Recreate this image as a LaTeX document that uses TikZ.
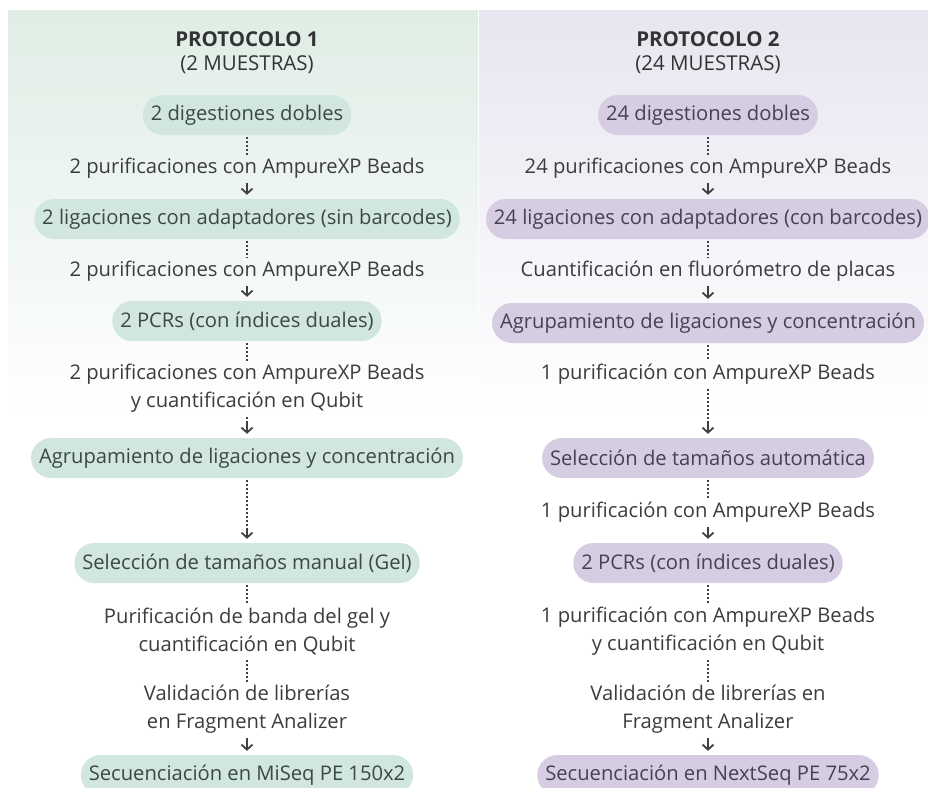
\documentclass[tikz,border=0pt]{standalone}
\usepackage{fontspec}
\setmainfont{Open Sans}
\usetikzlibrary{arrows.meta}
\definecolor{gfill}{HTML}{D0E6DE}
\definecolor{pfill}{HTML}{D6CDE3}
\definecolor{gtop}{HTML}{DFEDE5}
\definecolor{ptop}{HTML}{E8E5F0}
\definecolor{txt}{HTML}{3C3C3C}
\definecolor{gtxt}{HTML}{3B4844}
\definecolor{ptxt}{HTML}{464155}
\definecolor{conn}{HTML}{404040}
\definecolor{head}{HTML}{333333}
\tikzset{
  basefont/.style={font=\fontsize{20.2}{28}\selectfont},
  pill/.style={basefont, rounded corners=20pt, minimum height=40pt, inner xsep=8pt, inner ysep=0pt},
  gbox/.style={pill, fill=gfill, text=gtxt},
  pbox/.style={pill, fill=pfill, text=ptxt},
  lbl/.style={basefont, text=txt, align=center, inner sep=3pt},
  hd/.style={font=\fontsize{20.5}{24}\selectfont\bfseries, text=head, inner sep=0pt},
  hdsub/.style={font=\fontsize{20.5}{24}\selectfont, text=head, inner sep=0pt},
  dots/.style={draw=conn, line width=2pt, dash pattern=on 2pt off 2pt, shorten <=2pt},
  dotarr/.style={dots, shorten >=8pt},
  tipsty/.style={draw=conn, line width=1.8pt, -{Straight Barb[length=5pt,width=11pt,line width=1.8pt]}}
}
\begin{document}
\begin{tikzpicture}[x=1pt,y=-1pt]
\useasboundingbox (0,0) rectangle (928,787);
% panels
\shade[top color=gtop, bottom color=white] (8,10) rectangle (478,420);
\shade[top color=ptop, bottom color=white] (479,10) rectangle (928,420);

% ---------- left column ----------
\node[hd] (lh1) at (247,39) {PROTOCOLO 1};
\node[hdsub] (lh2) at (247,65) {(2 MUESTRAS)};
\node[gbox] (lb1) at (247,115) {2 digestiones dobles};
\node[lbl] (lt1) at (247,168) {2 purificaciones con AmpureXP Beads};
\node[gbox] (lb2) at (247,219) {2 ligaciones con adaptadores (sin barcodes)};
\node[lbl] (lt2) at (247,271) {2 purificaciones con AmpureXP Beads};
\node[gbox] (lb3) at (247,321) {2 PCRs (con índices duales)};
\node[lbl] (lt3) at (247,388) {2 purificaciones con AmpureXP Beads\\y cuantificación en Qubit};
\node[gbox] (lb4) at (247,458) {Agrupamiento de ligaciones y concentración};
\node[gbox] (lb5) at (247,563) {Selección de tamaños manual (Gel)};
\node[lbl] (lt5) at (247,631) {Purificación de banda del gel y\\cuantificación en Qubit};
\node[lbl] (lt6) at (247,709) {Validación de librerías\\en Fragment Analizer};
\node[gbox] (lb7) at (247,775) {Secuenciación en MiSeq PE 150x2};

\draw[dots] (lb1) -- (lt1);
\draw[dotarr] (lt1) -- (lb2);
\draw[tipsty] ([yshift=15pt]lb2.north) -- ([yshift=4pt]lb2.north);
\draw[dots] (lb2) -- (lt2);
\draw[dotarr] (lt2) -- (lb3);
\draw[tipsty] ([yshift=15pt]lb3.north) -- ([yshift=4pt]lb3.north);
\draw[dots] (lb3) -- (lt3);
\draw[dotarr] (lt3) -- (lb4);
\draw[tipsty] ([yshift=15pt]lb4.north) -- ([yshift=4pt]lb4.north);
\draw[dotarr] (lb4) -- (lb5);
\draw[tipsty] ([yshift=15pt]lb5.north) -- ([yshift=4pt]lb5.north);
\draw[dots] (lb5) -- (lt5);
\draw[dots] (lt5) -- (lt6);
\draw[dotarr] (lt6) -- (lb7);
\draw[tipsty] ([yshift=15pt]lb7.north) -- ([yshift=4pt]lb7.north);

% ---------- right column ----------
\node[hd] (rh1) at (708,39) {PROTOCOLO 2};
\node[hdsub] (rh2) at (708,65) {(24 MUESTRAS)};
\node[pbox] (rb1) at (708,115) {24 digestiones dobles};
\node[lbl] (rt1) at (708,168) {24 purificaciones con AmpureXP Beads};
\node[pbox] (rb2) at (708,219) {24 ligaciones con adaptadores (con barcodes)};
\node[lbl] (rt2) at (708,271) {Cuantificación en fluorómetro de placas};
\node[pbox] (rb3) at (708,323) {Agrupamiento de ligaciones y concentración};
\node[lbl] (rt3) at (708,374) {1 purificación con AmpureXP Beads};
\node[pbox] (rb4) at (708,458) {Selección de tamaños automática};
\node[lbl] (rt4) at (708,512) {1 purificación con AmpureXP Beads};
\node[pbox] (rb5) at (708,563) {2 PCRs (con índices duales)};
\node[lbl] (rt5) at (708,631) {1 purificación con AmpureXP Beads\\y cuantificación en Qubit};
\node[lbl] (rt6) at (708,709) {Validación de librerías en\\Fragment Analizer};
\node[pbox] (rb7) at (708,775) {Secuenciación en NextSeq PE 75x2};

\draw[dots] (rb1) -- (rt1);
\draw[dotarr] (rt1) -- (rb2);
\draw[tipsty] ([yshift=15pt]rb2.north) -- ([yshift=4pt]rb2.north);
\draw[dots] (rb2) -- (rt2);
\draw[dotarr] (rt2) -- (rb3);
\draw[tipsty] ([yshift=15pt]rb3.north) -- ([yshift=4pt]rb3.north);
\draw[dots] (rb3) -- (rt3);
\draw[dotarr] (rt3) -- (rb4);
\draw[tipsty] ([yshift=15pt]rb4.north) -- ([yshift=4pt]rb4.north);
\draw[dots] (rb4) -- (rt4);
\draw[dotarr] (rt4) -- (rb5);
\draw[tipsty] ([yshift=15pt]rb5.north) -- ([yshift=4pt]rb5.north);
\draw[dots] (rb5) -- (rt5);
\draw[dots] (rt5) -- (rt6);
\draw[dotarr] (rt6) -- (rb7);
\draw[tipsty] ([yshift=15pt]rb7.north) -- ([yshift=4pt]rb7.north);
\end{tikzpicture}
\end{document}
